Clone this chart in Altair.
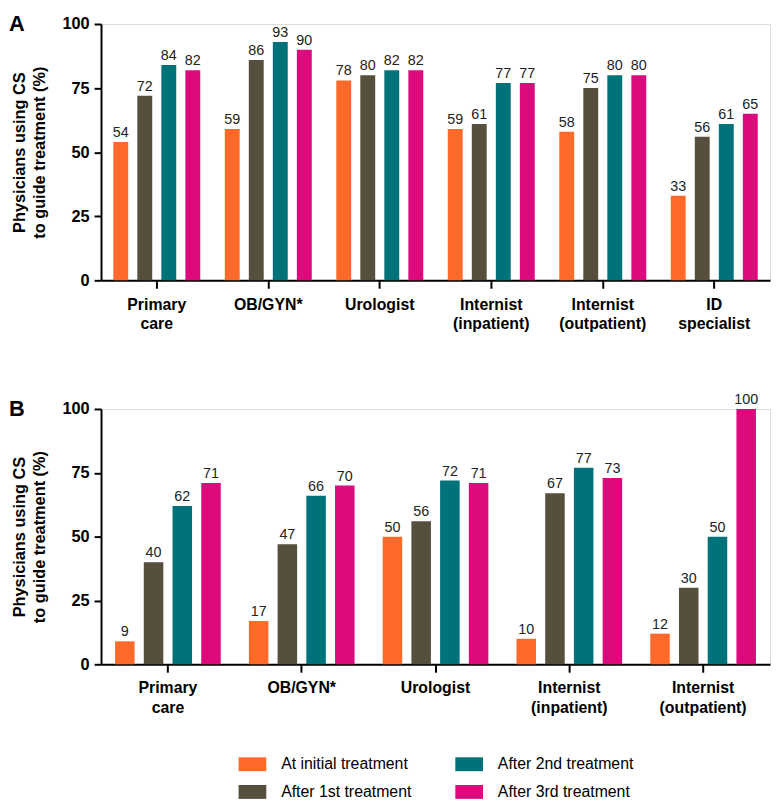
import altair as alt
import pandas as pd

FONT = "Liberation Sans"

series = ["At initial treatment", "After 1st treatment", "After 2nd treatment", "After 3rd treatment"]
colors = ["#FF6A2B", "#574F3E", "#00727A", "#DD0A7D"]

cats_a = ["Primary care", "OB/GYN*", "Urologist", "Internist (inpatient)",
          "Internist (outpatient)", "ID specialist"]
a_initial = [54, 59, 78, 59, 58, 33]
a_first = [72, 86, 80, 61, 75, 56]
a_second = [84, 93, 82, 77, 80, 61]
a_third = [82, 90, 82, 77, 80, 65]

cats_b = ["Primary care", "OB/GYN*", "Urologist", "Internist (inpatient)",
          "Internist (outpatient)"]
b_initial = [9, 17, 50, 10, 12]
b_first = [40, 47, 56, 67, 30]
b_second = [62, 66, 72, 77, 50]
b_third = [71, 70, 71, 73, 100]


def make_df(cats, vals_list):
    rows = []
    for s, vals in zip(series, vals_list):
        for c, v in zip(cats, vals):
            rows.append({"cat": c, "series": s, "value": v})
    return pd.DataFrame(rows)


df_a = make_df(cats_a, [a_initial, a_first, a_second, a_third])
df_b = make_df(cats_b, [b_initial, b_first, b_second, b_third])


def panel(df, cats, letter, height, x_pad_inner, off_pad_inner):
    xenc = alt.X(
        "cat:N", sort=cats, title=None,
        scale=alt.Scale(paddingInner=x_pad_inner, paddingOuter=x_pad_inner / 2),
        axis=alt.Axis(labelAngle=0, labelExpr="split(datum.value, ' ')",
                      labelFont=FONT, labelFontSize=16, labelFontWeight="bold",
                      labelColor="black", labelPadding=8, labelLineHeight=20,
                      domainColor="black", domainWidth=2, tickColor="black",
                      tickWidth=2, tickSize=8, labelBaseline="top"),
    )
    yenc = alt.Y(
        "value:Q",
        scale=alt.Scale(domain=[0, 100], nice=False),
        title=["Physicians using CS", "to guide treatment (%)"],
        axis=alt.Axis(values=[0, 25, 50, 75, 100], grid=False,
                      labelFont=FONT, labelFontSize=16.5, labelFontWeight="bold",
                      labelColor="black", labelPadding=5,
                      domainColor="black", domainWidth=2, tickColor="black",
                      tickWidth=2, tickSize=7,
                      titleFont=FONT, titleFontSize=16.5, titleFontWeight="bold",
                      titleColor="black", titlePadding=15, titleLineHeight=20),
    )
    xoff = alt.XOffset("series:N", sort=series,
                       scale=alt.Scale(paddingInner=off_pad_inner, paddingOuter=0))
    base = alt.Chart(df)
    bars = base.mark_bar().encode(
        x=xenc, y=yenc, xOffset=xoff,
        color=alt.Color("series:N",
                        scale=alt.Scale(domain=series, range=colors),
                        legend=alt.Legend(
                            title=None, orient="none", legendX=139, legendY=734,
                            direction="vertical",
                            columns=2, columnPadding=44, rowPadding=6,
                            symbolType="M-1,-0.5L1,-0.5L1,0.5L-1,0.5Z",
                            symbolSize=784, symbolStrokeWidth=0, symbolOpacity=1,
                            labelFont=FONT, labelFontSize=16, labelColor="black",
                            labelOffset=15, padding=0)),
    )
    labels = base.mark_text(font=FONT, fontSize=14.5, color="#222222",
                            baseline="alphabetic", dy=-5).encode(
        x=alt.X("cat:N", sort=cats), y="value:Q", xOffset=xoff, text="value:Q"
    )
    letter_df = pd.DataFrame({"t": [letter]})
    let = alt.Chart(letter_df).mark_text(
        font=FONT, fontSize=22, fontWeight="bold", color="black",
        align="left", baseline="top").encode(
        text="t:N", x=alt.value(-93), y=alt.value(-10))
    return alt.layer(bars, labels, let).properties(width=676, height=height)


pa = panel(df_a, cats_a, "A", 259, 0.22, 0.38)
pb = panel(df_b, cats_b, "B", 258, 0.21, 0.32)

chart = alt.vconcat(pa, pb, spacing=59).resolve_scale(
    x="independent", xOffset="independent"
).configure_view(stroke=None).configure(padding=0, background="white")

chart.save("out.html", embed_options={"renderer": "svg", "actions": False})
